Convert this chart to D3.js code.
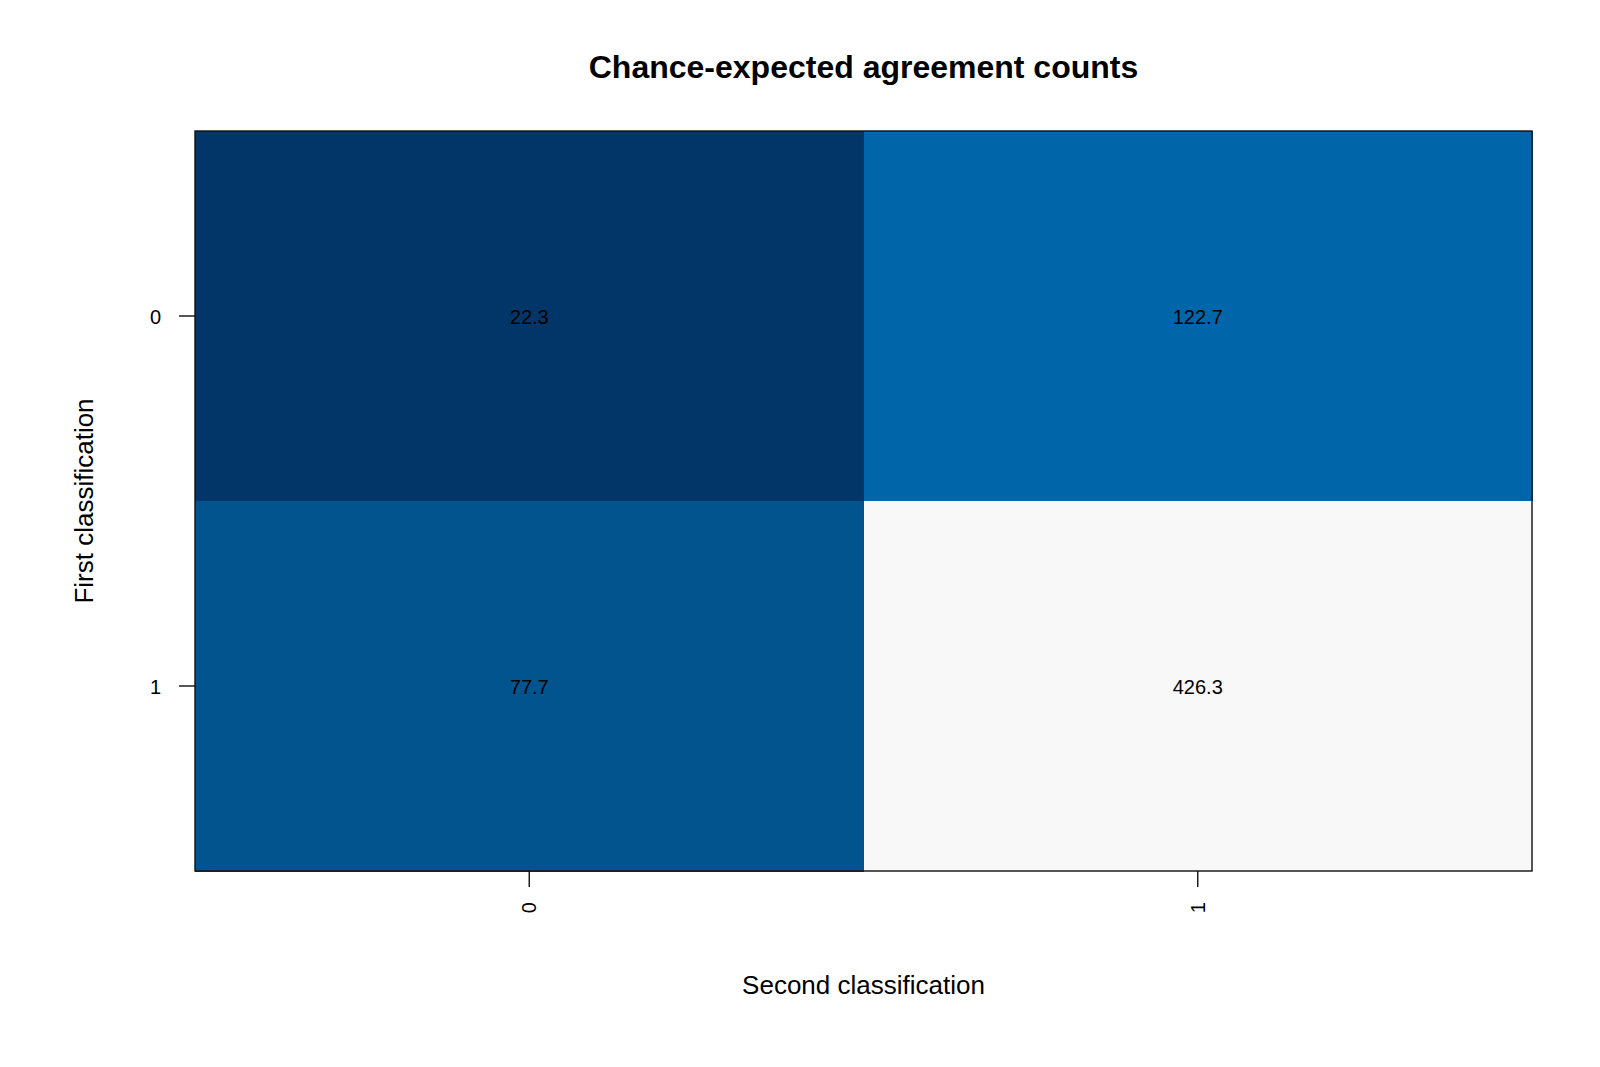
<!DOCTYPE html>
<html>
<head>
<meta charset="utf-8">
<script src="https://cdn.jsdelivr.net/npm/d3@7"></script>
<style>
  body { margin: 0; background: #fff; }
  text { font-family: "Liberation Sans", Arial, sans-serif; }
</style>
</head>
<body>
<div id="chart"></div>
<script>
// data
var rowCats = ["0", "1"];   // First classification
var colCats = ["0", "1"];   // Second classification
var counts = [
    [22.3, 122.7],
    [77.7, 426.3]
];
var palette = ["#023669", "#02548f", "#0066a9", "#f8f8f8"];

var w = 1600, h = 1067;
var margin = {top: 131, right: 68, bottom: 196, left: 195};
var pw = w - margin.left - margin.right,
    ph = h - margin.top - margin.bottom;

var svg = d3.select("#chart")
    .append("svg")
    .attr("width", w)
    .attr("height", h);

var g = svg.append("g")
    .attr("transform", "translate(" + margin.left + "," + margin.top + ")");

var x = d3.scaleBand().domain(colCats).range([0, pw]);
var y = d3.scaleBand().domain(rowCats).range([0, ph]);

var sorted = counts.flat().slice().sort(d3.ascending);
var color = d3.scaleLinear().domain(sorted).range(palette);

var cells = [];
counts.forEach(function(row, i) {
    row.forEach(function(v, j) {
        cells.push({r: rowCats[i], c: colCats[j], v: v});
    });
});

g.selectAll("rect.cell")
    .data(cells)
    .enter()
    .append("rect")
    .attr("class", "cell")
    .attr("x", function(d) { return x(d.c); })
    .attr("y", function(d) { return y(d.r); })
    .attr("width", x.bandwidth() + 0.5)
    .attr("height", y.bandwidth() + 0.5)
    .attr("shape-rendering", "crispEdges")
    .style("fill", function(d) { return color(d.v); });

g.selectAll("text.val")
    .data(cells)
    .enter()
    .append("text")
    .attr("class", "val")
    .text(function(d) { return d3.format(".1f")(d.v); })
    .attr("x", function(d) { return x(d.c) + x.bandwidth() / 2; })
    .attr("y", function(d) { return y(d.r) + y.bandwidth() / 2; })
    .attr("text-anchor", "middle")
    .attr("dy", "0.42em")
    .attr("font-size", "20px")
    .attr("fill", "black");

// frame
g.append("rect")
    .attr("x", 0).attr("y", 0)
    .attr("width", pw).attr("height", ph)
    .attr("fill", "none")
    .attr("stroke", "#111")
    .attr("stroke-width", 1.4);

// x axis
var xAxis = g.append("g")
    .attr("transform", "translate(0," + ph + ")")
    .call(d3.axisBottom(x).tickSize(16).tickPadding(14));
xAxis.select(".domain").remove();
xAxis.selectAll("line").attr("stroke", "#111").attr("stroke-width", 1.4);
xAxis.selectAll("text")
    .attr("font-size", "20px")
    .attr("fill", "black")
    .attr("transform", "rotate(-90)")
    .attr("text-anchor", "end")
    .attr("x", -31)
    .attr("y", 0)
    .attr("dy", "0.35em");

// y axis
var yAxis = g.append("g")
    .call(d3.axisLeft(y).tickSize(16).tickPadding(18));
yAxis.select(".domain").remove();
yAxis.selectAll("line").attr("stroke", "#111").attr("stroke-width", 1.4);
yAxis.selectAll("text")
    .attr("font-size", "20px")
    .attr("dy", "0.42em")
    .attr("fill", "black");

// titles
svg.append("text")
    .text("Chance-expected agreement counts")
    .attr("x", margin.left + pw / 2)
    .attr("y", 78)
    .attr("text-anchor", "middle")
    .attr("font-size", "32px")
    .attr("font-weight", "bold")
    .attr("fill", "black");

svg.append("text")
    .text("Second classification")
    .attr("x", margin.left + pw / 2)
    .attr("y", 994)
    .attr("text-anchor", "middle")
    .attr("font-size", "26px")
    .attr("fill", "black");

svg.append("text")
    .text("First classification")
    .attr("transform", "translate(93," + (margin.top + ph / 2) + ") rotate(-90)")
    .attr("text-anchor", "middle")
    .attr("font-size", "26px")
    .attr("fill", "black");
</script>
</body>
</html>
